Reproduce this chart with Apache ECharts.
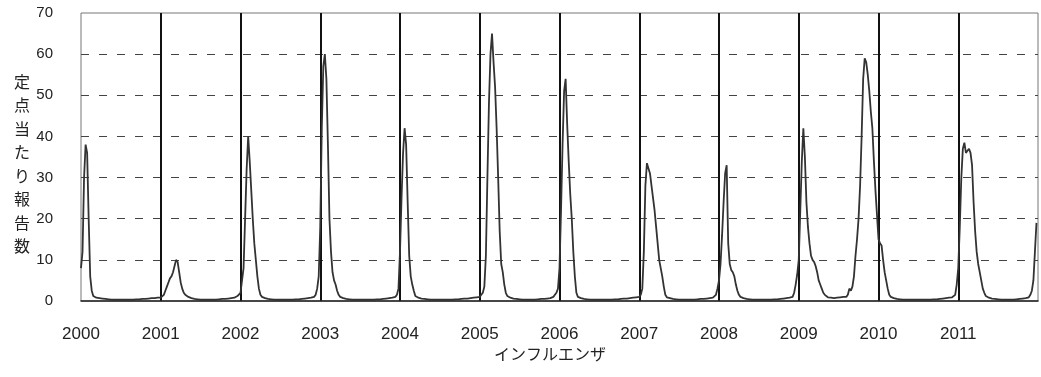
<!DOCTYPE html>
<html>
<head>
<meta charset="utf-8">
<script src="https://cdn.jsdelivr.net/npm/echarts@6/dist/echarts.min.js"></script>
<style>
	html, body { margin: 0; padding: 0; background: #fff; }
	#box { width: 1041px; height: 377px; }
</style>
</head>
<body>
<div id="box"></div>
<script>
	// 定点当たり報告数 (週ごと, 1年 = 52週)
	const years = [2000, 2001, 2002, 2003, 2004, 2005, 2006, 2007, 2008, 2009, 2010, 2011];
	const yearTicks = ['2000', '2001', '2002', '2003', '2004', '2005', '2006', '2007', '2008', '2009', '2010', '2011'];

	const y2000 = [8,12,30,38,36,20,6,2.5,1.2,0.9, 0.8,0.7,0.7,0.6,0.6,0.5,0.5,0.4,0.4,0.3, 0.3,0.3,0.3,0.3,0.3,0.3,0.3,0.3,0.3,0.3,
		0.3,0.3,0.3,0.3,0.3,0.3,0.4,0.4,0.4,0.5, 0.5,0.5,0.5,0.6,0.6,0.6,0.7,0.7,0.7,0.8, 0.8,0.8];
	const y2001 = [0.8,1,1.5,2.5,3.5,4.5,5.5,6,7,8.5, 10,9.5,7,4.5,3,2,1.5,1.2,1,0.8, 0.7,0.6,0.5,0.5,0.4,0.4,0.3,0.3,0.3,0.3,
		0.3,0.3,0.3,0.3,0.3,0.3,0.3,0.4,0.4,0.4, 0.5,0.5,0.5,0.6,0.6,0.7,0.7,0.8,0.8,1, 1.2,1.5];
	const y2002 = [2,5,8,20,32,40,34,27,20,14, 10,6,3,1.5,1,0.8,0.7,0.6,0.5,0.5, 0.4,0.4,0.3,0.3,0.3,0.3,0.3,0.3,0.3,0.3,
		0.3,0.3,0.3,0.3,0.3,0.3,0.4,0.4,0.4,0.5, 0.5,0.5,0.6,0.6,0.7,0.7,0.8,0.8,1,1.5, 3,6];
	const y2003 = [18,42,57,60,54,38,20,12,7,5, 4,2.5,1.5,1,0.8,0.7,0.6,0.5,0.5,0.4, 0.4,0.3,0.3,0.3,0.3,0.3,0.3,0.3,0.3,0.3,
		0.3,0.3,0.3,0.3,0.3,0.3,0.3,0.4,0.4,0.4, 0.5,0.5,0.5,0.6,0.6,0.7,0.7,0.8,0.8,1, 1.5,3];
	const y2004 = [12,25,36,42,38,24,11,6,4,2.5, 1.2,0.9,0.8,0.7,0.6,0.5,0.5,0.4,0.4,0.3, 0.3,0.3,0.3,0.3,0.3,0.3,0.3,0.3,0.3,0.3,
		0.3,0.3,0.3,0.3,0.3,0.3,0.4,0.4,0.4,0.5, 0.5,0.5,0.6,0.6,0.6,0.7,0.7,0.7,0.8,0.8, 0.9,1];
	const y2005 = [1,1.5,2,3.5,11,30,48,60,65,58, 52,42,30,17,9,7,4,2,1.2,0.9, 0.8,0.7,0.6,0.5,0.5,0.4,0.4,0.3,0.3,0.3,
		0.3,0.3,0.3,0.3,0.3,0.3,0.3,0.4,0.4,0.4, 0.5,0.5,0.5,0.6,0.6,0.7,0.7,0.8,1,1.5, 2,3];
	const y2006 = [8,22,38,51,54,43,34,26,20,12, 6,2,1,0.8,0.7,0.6,0.5,0.5,0.4,0.4, 0.3,0.3,0.3,0.3,0.3,0.3,0.3,0.3,0.3,0.3,
		0.3,0.3,0.3,0.3,0.3,0.3,0.4,0.4,0.4,0.5, 0.5,0.5,0.6,0.6,0.6,0.7,0.7,0.7,0.8,0.8, 0.9,1];
	const y2007 = [1,1.5,3,12,28,33.5,33.5,31,28,25, 22,18,14,10,8,6,3.5,1.5,0.9,0.8, 0.7,0.6,0.5,0.5,0.4,0.4,0.3,0.3,0.3,0.3,
		0.3,0.3,0.3,0.3,0.3,0.3,0.3,0.4,0.4,0.4, 0.5,0.5,0.5,0.6,0.6,0.7,0.7,0.8,0.8,0.8, 1.5,3];
	const y2008 = [5,9,16,24,31,33,14,9,7.5,7, 6,4,2.5,1.5,1,0.8,0.7,0.6,0.5,0.5, 0.4,0.4,0.3,0.3,0.3,0.3,0.3,0.3,0.3,0.3,
		0.3,0.3,0.3,0.3,0.3,0.3,0.4,0.4,0.4,0.5, 0.5,0.5,0.6,0.6,0.7,0.7,0.8,0.9,1,2, 4,6.5];
	const y2009 = [10,22,34,42,35,24,18,14,11,10, 9.5,8.5,7,5,4,3,2,1.5,1.2,0.9, 0.8,0.8,0.7,0.7,0.7,0.8,0.8,0.9,0.9,1,
		1,1,1.5,3,2.5,3.5,6,11,15,20, 28,40,54,59,58,55,51,46,42,34, 27,21];
	const y2010 = [15,14,13.5,10,7,5,3,1.5,1,0.8, 0.7,0.6,0.5,0.5,0.4,0.4,0.3,0.3,0.3,0.3, 0.3,0.3,0.3,0.3,0.3,0.3,0.3,0.3,0.3,0.3,
		0.3,0.3,0.3,0.3,0.3,0.3,0.4,0.4,0.4,0.5, 0.5,0.5,0.6,0.6,0.7,0.7,0.8,0.8,0.9,1, 1.5,4];
	const y2011 = [8,18,30,37,38.5,36,36.5,37,36,33, 24,17,12,9,7,5,3,2,1.2,0.9, 0.8,0.7,0.6,0.5,0.5,0.4,0.4,0.3,0.3,0.3,
		0.3,0.3,0.3,0.3,0.3,0.3,0.3,0.4,0.4,0.4, 0.5,0.5,0.6,0.6,0.7,0.8,0.9,1.5,2.5,5, 12,19];

	const weekly = [y2000, y2001, y2002, y2003, y2004, y2005, y2006, y2007, y2008, y2009, y2010, y2011];

	// x = 年 + 週/52
	var points = [];
	weekly.forEach((arr, i) => {
		arr.forEach((v, w) => {
			points.push([years[i] + w / arr.length, v]);
		});
	});

	var myChart = echarts.init(document.getElementById('box'));
	var option = {
		animation: false,
		grid: {
			left: 81,
			right: 1,
			top: 13,
			bottom: 76,
			show: true,
			borderColor: '#777',
			borderWidth: 1
		},
		xAxis: {
			type: 'value',
			min: 2000,
			max: 2012,
			interval: 1,
			axisLine: { show: true, lineStyle: { color: '#222', width: 1.5 } },
			axisTick: { show: false },
			axisLabel: {
				margin: 25,
				fontSize: 17,
				color: '#222',
				fontFamily: '"Liberation Sans", Arial, sans-serif',
				formatter: v => yearTicks[v - 2000] || ''
			},
			splitLine: {
				show: true,
				showMinLine: false,
				showMaxLine: false,
				lineStyle: { color: '#111', width: 2 }
			}
		},
		yAxis: {
			type: 'value',
			min: 0,
			max: 70,
			interval: 10,
			axisLine: { show: false },
			axisTick: { show: false },
			axisLabel: {
				margin: 28,
				fontSize: 15,
				color: '#222',
				fontFamily: '"Liberation Sans", Arial, sans-serif'
			},
			splitLine: {
				show: true,
				showMinLine: false,
				showMaxLine: false,
				lineStyle: { color: '#444', width: 1, type: [8, 10] }
			}
		},
		graphic: [
			{
				type: 'text',
				left: 14,
				top: 70,
				style: {
					text: '定\n点\n当\nた\nり\n報\n告\n数',
					font: '16px "Noto Sans CJK JP"',
					lineHeight: 23.5,
					fill: '#222'
				}
			},
			{
				type: 'text',
				left: 494,
				top: 346,
				style: {
					text: 'インフルエンザ',
					font: '16px "Noto Sans CJK JP"',
					fill: '#222'
				}
			}
		],
		series: [
			{
				name: 'インフルエンザ',
				type: 'line',
				data: points,
				showSymbol: false,
				lineStyle: { color: '#333', width: 1.8 }
			}
		]
	};
	myChart.setOption(option);
</script>
</body>
</html>
